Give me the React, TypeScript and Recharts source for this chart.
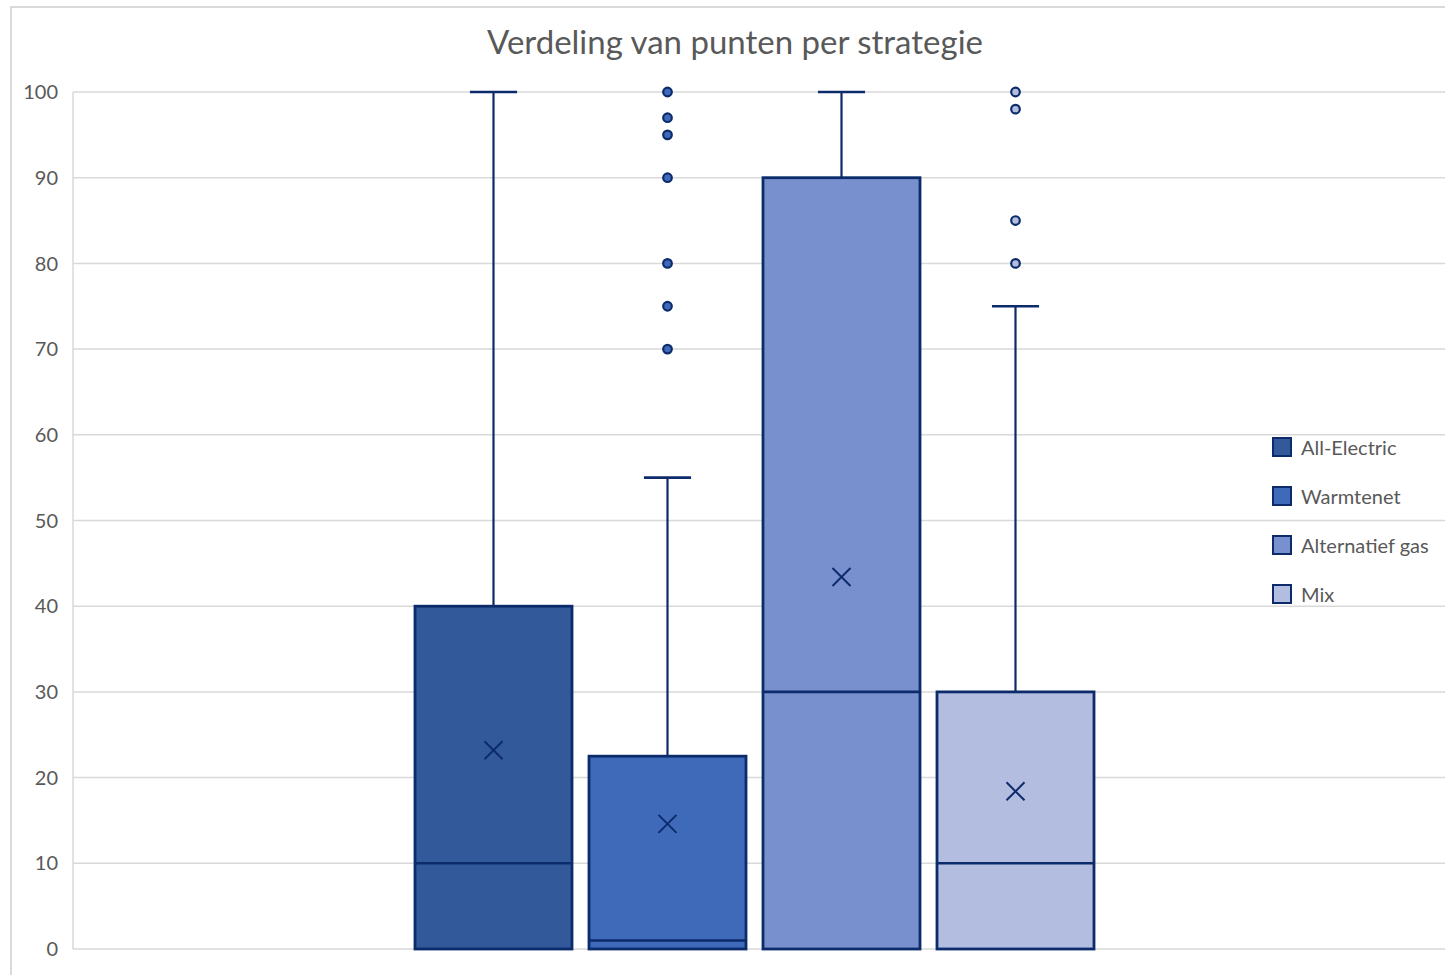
import { ComposedChart, Bar, XAxis, YAxis, CartesianGrid, Legend } from 'recharts'

const strategies = ['All-Electric', 'Warmtenet', 'Alternatief gas', 'Mix']
const q1Values = [0, 0, 0, 0]
const medianValues = [10, 1, 30, 10]
const q3Values = [40, 22.5, 90, 30]
const maxValues = [100, 55, 100, 75]
const meanValues = [23.2, 14.6, 43.4, 18.4]
const outlierValues = [[], [70, 75, 80, 90, 95, 97, 100], [], [80, 85, 98, 100]]
const yTicks = [0, 10, 20, 30, 40, 50, 60, 70, 80, 90, 100]

const fills = ['#325a9b', '#3f6aba', '#7891ce', '#b3bddf']
const edge = '#0c2b6b'
const font = 'Lato, "Open Sans", sans-serif'

// one category row, each strategy holds its box range [q1, q3]
const rows = [
  strategies.reduce((acc: any, s, i) => {
    acc[s] = [q1Values[i], q3Values[i]]
    return acc
  }, { cat: '' }),
]

const makeBox = (i: number) => (props: any) => {
  const { x, y, width, height } = props
  const bottom = y + height
  const perUnit = height / (q3Values[i] - q1Values[i])
  const toY = (v: number) => bottom - (v - q1Values[i]) * perUnit
  const cx = x + width / 2
  const cap = width * 0.3
  const my = toY(meanValues[i])
  const ms = 9
  return (
    <g>
      <line x1={cx} x2={cx} y1={y} y2={toY(maxValues[i])} stroke={edge} strokeWidth={2.2} />
      <line x1={cx - cap / 2} x2={cx + cap / 2} y1={toY(maxValues[i])} y2={toY(maxValues[i])} stroke={edge} strokeWidth={2.6} />
      <rect x={x} y={y} width={width} height={height} fill={fills[i]} stroke={edge} strokeWidth={2.8} />
      <line x1={x} x2={x + width} y1={toY(medianValues[i])} y2={toY(medianValues[i])} stroke={edge} strokeWidth={2.6} />
      <line x1={cx - ms} x2={cx + ms} y1={my - ms} y2={my + ms} stroke={edge} strokeWidth={2} />
      <line x1={cx - ms} x2={cx + ms} y1={my + ms} y2={my - ms} stroke={edge} strokeWidth={2} />
      {outlierValues[i].map((v, k) => (
        <circle key={k} cx={cx} cy={toY(v)} r={4.3} fill={fills[i]} stroke={edge} strokeWidth={2.2} />
      ))}
    </g>
  )
}

const LegendBox = (props: any) => {
  const items = [...(props.payload || [])].sort(
    (a: any, b: any) => strategies.indexOf(a.value) - strategies.indexOf(b.value)
  )
  return (
    <div style={{ fontFamily: font }}>
      {items.map((p: any, i: number) => (
        <div key={i} style={{ display: 'flex', alignItems: 'center', height: 49 }}>
          <span
            style={{
              width: 16,
              height: 16,
              background: p.color,
              border: `2px solid ${edge}`,
              display: 'inline-block',
              marginRight: 9,
            }}
          />
          <span style={{ fontSize: 20, color: '#595959' }}>{p.value}</span>
        </div>
      ))}
    </div>
  )
}

export default function App() {
  return (
    <div style={{ position: 'absolute', left: 0, top: 0, width: 1445, height: 975, overflow: 'hidden', background: '#fff' }}>
      <div
        style={{
          position: 'absolute',
          left: 10,
          top: 6,
          width: 1500,
          height: 1500,
          border: '2px solid #d9d9d9',
        }}
      />
      <div
        style={{
          position: 'absolute',
          left: 0,
          top: 21,
          width: 1470,
          textAlign: 'center',
          fontFamily: font,
          fontSize: 33,
          color: '#595959',
        }}
      >
        Verdeling van punten per strategie
      </div>
      <div style={{ position: 'absolute', left: 0, top: 0 }}>
        <ComposedChart
          width={1460}
          height={1000}
          data={rows}
          margin={{ top: 92, right: 15, bottom: 51, left: 0 }}
          barGap={17}
        >
          <CartesianGrid vertical={false} stroke="#d9d9d9" strokeWidth={1.5} />
          <XAxis dataKey="cat" hide padding={{ left: 0, right: 9 }} />
          <YAxis
            domain={[0, 100]}
            ticks={yTicks}
            width={73}
            tickLine={false}
            tickMargin={9}
            axisLine={{ stroke: '#d9d9d9', strokeWidth: 1.5 }}
            tick={{ fill: '#595959', fontSize: 20, fontFamily: font }}
          />
          <Legend
            layout="horizontal"
            align="center"
            verticalAlign="middle"
            content={<LegendBox />}
            wrapperStyle={{ left: 1272, top: 422, width: 'auto' }}
          />
          {strategies.map((s, i) => (
            <Bar
              key={s}
              dataKey={s}
              name={s}
              fill={fills[i]}
              barSize={157}
              shape={makeBox(i)}
              isAnimationActive={false}
            />
          ))}
        </ComposedChart>
      </div>
    </div>
  )
}
